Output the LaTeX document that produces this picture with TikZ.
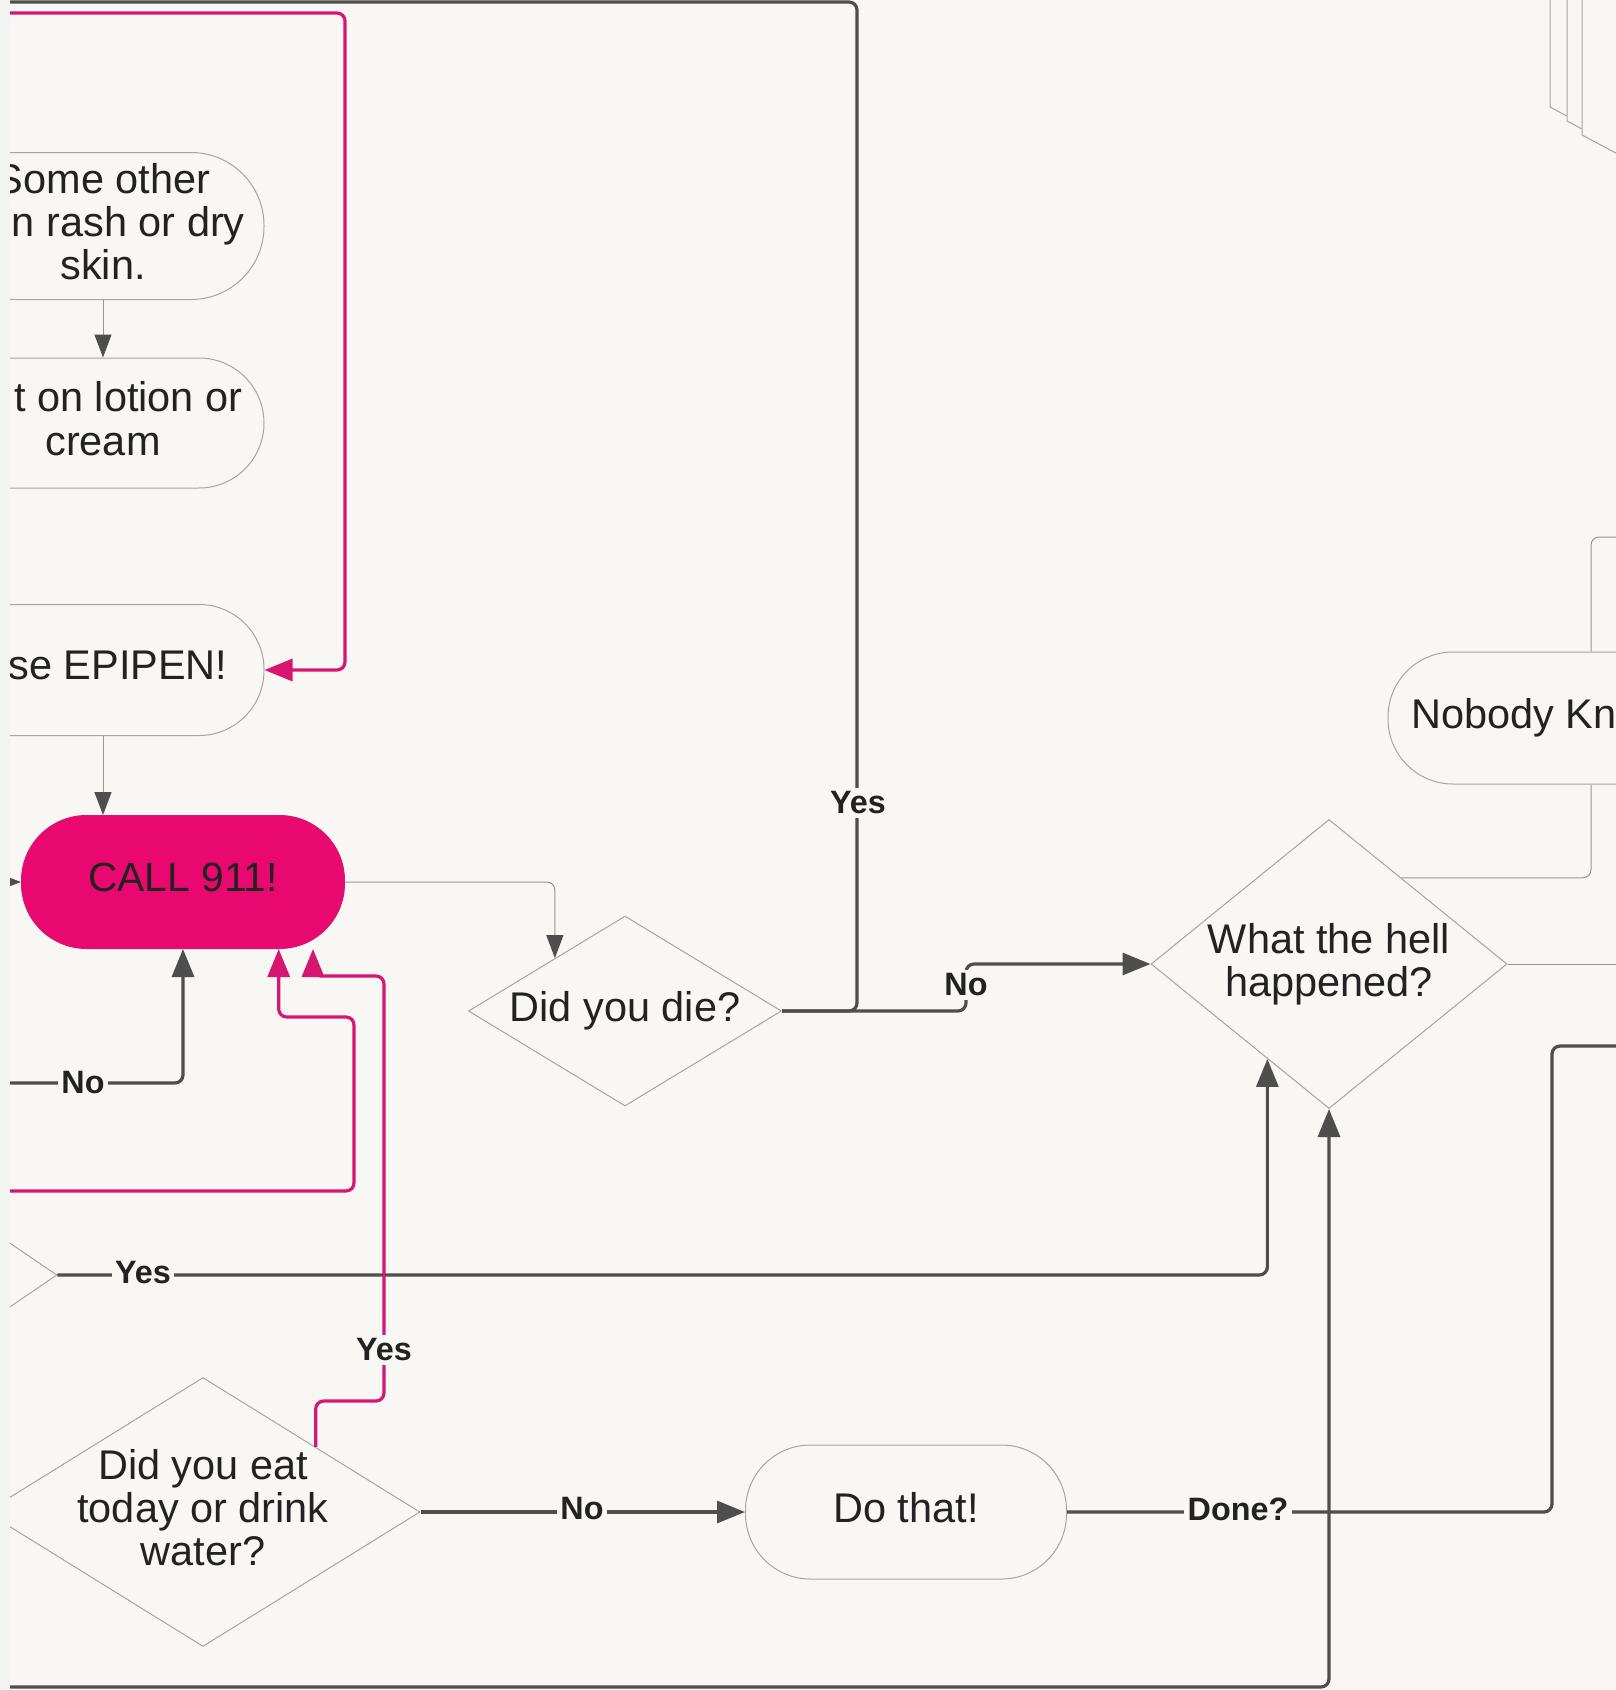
\documentclass[tikz,border=0pt]{standalone}
\usepackage{fontspec}
\setmainfont{Liberation Sans}
\usetikzlibrary{arrows.meta,shapes.geometric}
\definecolor{paper}{RGB}{248,247,243}
\definecolor{edgestrip}{RGB}{242,244,242}
\definecolor{hotpink}{RGB}{232,8,112}
\definecolor{pinkline}{RGB}{214,22,112}
\definecolor{darkline}{RGB}{78,78,78}
\definecolor{boxline}{RGB}{165,165,165}
\definecolor{faintline}{RGB}{150,150,150}
\definecolor{ink}{RGB}{34,34,34}
\tikzset{
	pill/.style={rectangle, rounded corners=6.5mm, draw=boxline, line width=0.1mm, fill=paper, text=ink, align=center,
		font=\fontsize{11.8}{12.3}\selectfont, minimum width=32.2mm, minimum height=13.2mm, inner sep=0pt, text depth=2.6pt},
	ask/.style={diamond, draw=boxline, line width=0.1mm, fill=paper, text=ink, align=center,
		font=\fontsize{11.8}{12.3}\selectfont, inner sep=-3pt},
	tag/.style={fill=paper, inner sep=1pt, text=ink, font=\fontsize{9.2}{10}\bfseries\selectfont},
	darkconn/.style={draw=darkline, line width=0.32mm, rounded corners=0.8mm},
	pinkconn/.style={draw=pinkline, line width=0.32mm, rounded corners=0.8mm,
		-{Triangle[width=2.2mm,length=2.8mm,color=pinkline]}},
	faintconn/.style={draw=faintline, line width=0.1mm, rounded corners=0.8mm},
	bigtip/.style={-{Triangle[width=2.2mm,length=2.8mm,color=darkline]}},
	smalltip/.style={-{Triangle[width=1.7mm,length=2.3mm,color=darkline]}}
}

\begin{document}
\begin{tikzpicture}[x=0.1mm, y=-0.1mm]
		%%%%% START %%%%%
		
		\fill[paper] (0,0) rectangle (1616,1690);
		\fill[edgestrip] (0,0) rectangle (10,1690);
		\useasboundingbox (0,0) rectangle (1616,1690);
		
		\begin{scope}
		\clip (10,0) rectangle (1616,1690);
		
		% stacked pages, top right
		\foreach \sx/\sy in {1550/107, 1567/121, 1582/135}
			\filldraw[fill=paper, draw=boxline, line width=0.1mm] (\sx,-10) -- (\sx,\sy) -- ++(120,64) -- ++(0,-300) -- cycle;
		
		% boxes
		\node[pill, minimum height=14.7mm, rounded corners=7.3mm] (rash) at (103,226) {Some other\\\phantom{ski}n rash or dry\\skin.};
		\node[pill, minimum height=13mm] (lotion) at (103,423) {\phantom{Pu}t on lotion or\\cream};
		\node[pill, minimum height=13.1mm] (epi) at (103,670) {\phantom{U}se EPIPEN!};
		\node[pill, fill=hotpink, draw=pinkline, minimum width=32.3mm, minimum height=13.3mm,
			font=\fontsize{11.6}{12}\selectfont] (call) at (183,882) {CALL 911!};
		\node[ask, minimum width=31.3mm, minimum height=19mm, aspect=1.65] (die) at (625,1011) {Did you die?};
		\node[ask, minimum width=35.6mm, minimum height=28.9mm, aspect=1.23] (what) at (1329,964) {What the hell\\happened?};
		\node[pill, minimum width=32.6mm] (nobody) at (1551,718) {Nobody Kn\phantom{ows}};
		\node[ask, minimum width=40mm, minimum height=27.2mm] (prev) at (-143,1275) {};
		\node[ask, minimum width=43.4mm, minimum height=26.9mm, aspect=1.61, text depth=2.6pt] (eat) at (203,1512) {Did you eat\\today or drink\\water?};
		\node[pill, minimum width=32.1mm, minimum height=13.4mm] (dothat) at (906,1512) {Do that!};
		
		% loose ends
		\coordinate (pinkTop) at (0,13);
		\coordinate (pinkTurn) at (345,13);
		\coordinate (topLeft) at (0,2);
		\coordinate (yesTop) at (857,2);
		\coordinate (noJog) at (966,988);
		\coordinate (leftIn) at (0,882);
		\coordinate (noLeft) at (0,1083);
		\coordinate (pinkLow) at (0,1191);
		\coordinate (pinkBend) at (354,1017);
		\coordinate (pinkMid) at (384,1401);
		\coordinate (pinkHook) at (313,976);
		\coordinate (doneUp) at (1552,1046);
		\coordinate (doneOut) at (1630,1046);
		\coordinate (bottomLeft) at (0,1687);
		\coordinate (whatOut) at (1630,964);
		\coordinate (nobodyOut) at (1630,537);
		
		% thin connectors
		\draw[faintconn, smalltip] (rash.south) -- (lotion.north);
		\draw[faintconn, smalltip] (epi.south) -- (epi.south |- call.north);
		\draw[faintconn, smalltip] (leftIn) -- (call.west);
		\draw[faintconn, smalltip] (call.east) -| (die.143);
		\draw[faintconn] (what.east) -- (whatOut);
		\draw[faintconn] (what.50) -| ([xshift=4mm]nobody.south);
		\draw[faintconn] ([xshift=4mm]nobody.north) |- (nobodyOut);
		
		% dark connectors
		\draw[darkconn] (die.east) -| (yesTop) -- (topLeft);
		\draw[darkconn, bigtip] (die.east) -| (noJog) |- (what.west);
		\draw[darkconn, bigtip] (noLeft) -| (call.south);
		\draw[darkconn, bigtip] (prev.east) -| (what.237);
		\draw[darkconn, bigtip] (eat.east) -- (dothat.west);
		\draw[darkconn] (dothat.east) -| (doneUp) -- (doneOut);
		\draw[darkconn, bigtip] (bottomLeft) -| (what.south);
		
		% pink connectors
		\draw[pinkconn] (pinkTop) -- (pinkTurn) |- (epi.east);
		\draw[pinkconn] (pinkLow) -| (pinkBend) -| (call.-35);
		\draw[pinkconn] (eat.30) |- (pinkMid) |- (pinkHook) -- (pinkHook |- call.-24);
		
		% labels
		\node[tag] (yesDie) at (858,803) {Yes};
		\node[tag] (noDie) at (966,985) {No};
		\node[tag] (noCall) at (83,1083) {No};
		\node[tag] (yesPrev) at (143,1273) {Yes};
		\node[tag] (yesEat) at (384,1350) {Yes};
		\node[tag] (noEat) at (582,1509) {No};
		\node[tag] (doneTag) at (1238,1509) {Done?};
		
		\end{scope}
		
		%%%%% END %%%%%
	\end{tikzpicture}
\end{document}
